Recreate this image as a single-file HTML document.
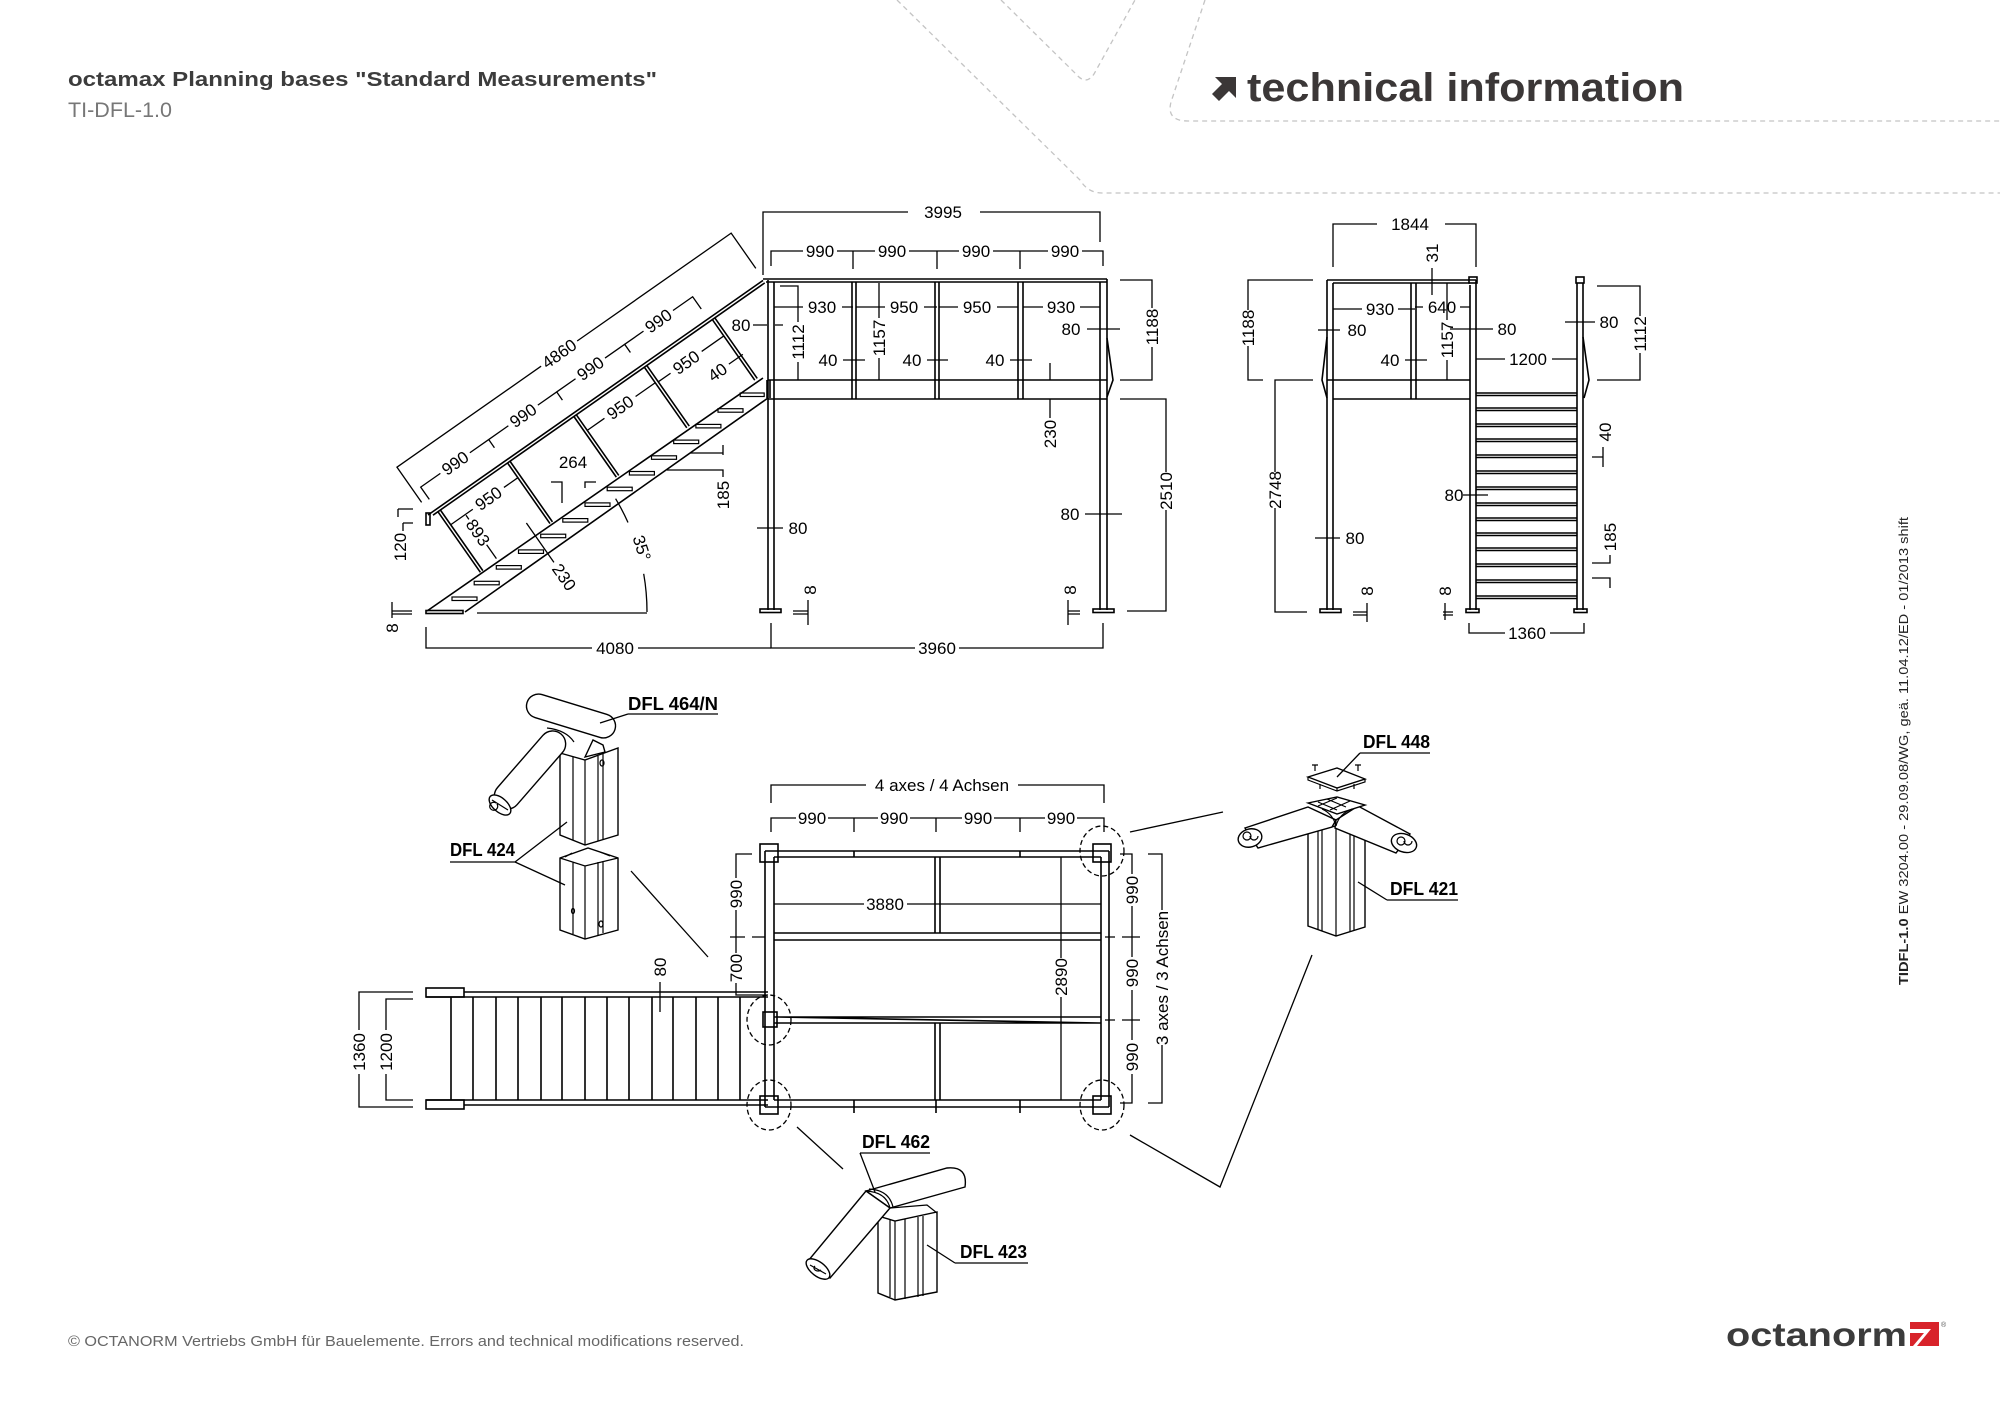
<!DOCTYPE html>
<html><head><meta charset="utf-8">
<style>
html,body{margin:0;padding:0;background:#fff;}
svg{display:block;}
.ln{fill:none;stroke:#000;stroke-width:1.6;}
.dm{fill:none;stroke:#000;stroke-width:1.3;}
.t{font-family:"Liberation Sans",sans-serif;font-size:17px;fill:#000;text-anchor:middle;stroke:none;}
.lb{font-family:"Liberation Sans",sans-serif;font-size:18px;font-weight:bold;fill:#000;stroke:none;}
.pt{stroke:#000;stroke-width:1.4;fill:#fff;}
.pn{stroke:#000;stroke-width:1.2;fill:none;}
</style></head><body>
<svg width="2000" height="1413" viewBox="0 0 2000 1413" xmlns="http://www.w3.org/2000/svg">
<rect width="2000" height="1413" fill="#fff"/>

<!-- decorative dashed lines -->
<g fill="none" stroke="#c4c4c4" stroke-width="1.3" stroke-dasharray="5 4">
<path d="M897,0 L1080,180 Q1088,193 1102,193 L2000,193"/>
<path d="M1001,0 L1076,74 Q1086,86 1094,74 L1135,0"/>
<path d="M1205,0 L1171,102 Q1166,121 1188,121 L2000,121"/>
</g>

<!-- header -->
<text x="68" y="86" font-family="Liberation Sans, sans-serif" font-weight="bold" font-size="20" fill="#3c3c3c" textLength="589" lengthAdjust="spacingAndGlyphs">octamax Planning bases "Standard Measurements"</text>
<text x="68" y="117" font-family="Liberation Sans, sans-serif" font-size="21" fill="#777" textLength="104" lengthAdjust="spacingAndGlyphs">TI-DFL-1.0</text>
<polygon points="1215,77 1236,77 1236,98 1229,91 1219,101 1212,94 1222,84" fill="#3b3737"/>
<text x="1247" y="101" font-family="Liberation Sans, sans-serif" font-weight="bold" font-size="40" fill="#3b3737" textLength="437" lengthAdjust="spacingAndGlyphs">technical information</text>

<!-- ================= FRONT VIEW ================= -->
<g class="ln">
<path d="M763,279 H1107 M766,282 H1107"/>
<path d="M768,280 V610 M774,282 V610 M1100,282 V610 M1107,279 V610"/>
<path d="M852,282 V399 M856,282 V399 M935,282 V399 M939,282 V399 M1018,282 V399 M1023,282 V399"/>
<path d="M768,380 H1107 M768,399 H1107"/>
<rect x="760" y="609" width="21" height="3.5"/>
<rect x="1093" y="609" width="21" height="3.5"/>
<path d="M1107,338 L1113,380 L1107,397"/>
</g>
<g class="dm">
<path d="M763,275 V212 H908 M980,212 H1100 V242"/>
<path d="M771,266 V251 H803 M837,251 H853 V269 M853,251 H875 M909,251 H937 V269 M937,251 H959 M993,251 H1020 V269 M1020,251 H1048 M1082,251 H1103 V266"/>
<path d="M780,286 H798 V322 M798,362 V380"/>
<path d="M879,283 V318 M879,358 V380"/>
<path d="M774,307 H803 M842,307 H853 M856,307 H885 M924,307 H937 M939,307 H958 M997,307 H1018 M1023,307 H1043 M1080,307 H1100"/>
<path d="M843,360 H865 M927,360 H948 M1010,360 H1032 M1050,363 V380"/>
<path d="M1087,329 H1120"/>
<path d="M1120,280 H1152 V308 M1152,347 V380 H1120"/>
<path d="M1050,399 V418"/>
<path d="M1120,399 H1166 V472 M1166,510 V611 H1127"/>
<path d="M1085,514 H1122 M757,528 H783"/>
<path d="M793,611 H808 M793,614 H808 M808,600 V625"/>
<path d="M1068,611 H1080 M1068,614 H1080 M1068,600 V625"/>
<path d="M771,623 V648 H915 M959,648 H1103 V623"/>
<path d="M426,627 V648 H592 M638,648 H771"/>
<path d="M753,325 H767 M775,325 H783"/>
</g>
<g class="t">
<text x="943" y="218">3995</text>
<text x="820" y="257">990</text><text x="892" y="257">990</text><text x="976" y="257">990</text><text x="1065" y="257">990</text>
<text x="822" y="313">930</text><text x="904" y="313">950</text><text x="977" y="313">950</text><text x="1061" y="313">930</text>
<text x="828" y="366">40</text><text x="912" y="366">40</text><text x="995" y="366">40</text>
<text x="1071" y="335">80</text>
<text x="1070" y="520">80</text>
<text x="798" y="534">80</text>
<text x="741" y="331">80</text>
<text x="937" y="654">3960</text>
<text x="615" y="654">4080</text>
<text transform="translate(798,342) rotate(-90)" y="6">1112</text>
<text transform="translate(879,338) rotate(-90)" y="6">1157</text>
<text transform="translate(1152,327) rotate(-90)" y="6">1188</text>
<text transform="translate(1050,434) rotate(-90)" y="6">230</text>
<text transform="translate(1166,491) rotate(-90)" y="6">2510</text>
<text transform="translate(810,590) rotate(-90)" y="6">8</text>
<text transform="translate(1070,590) rotate(-90)" y="6">8</text>
</g>

<!-- ================= STAIR SIDE VIEW ================= -->
<g class="ln">
<path d="M427,611 L763,378 M465,612 L768,398"/>
<rect x="426" y="610.5" width="37" height="3"/>
<rect x="426" y="513" width="4" height="12"/>
<path d="M767,380 V398 M770,380 V398"/>
</g>
<g class="pn" stroke-width="1.3">
<rect x="452" y="597" width="25" height="3.5"/>
<rect x="474.2" y="581.3" width="25" height="3.5"/>
<rect x="496.3" y="565.6" width="25" height="3.5"/>
<rect x="518.5" y="549.9" width="25" height="3.5"/>
<rect x="540.7" y="534.2" width="25" height="3.5"/>
<rect x="562.8" y="518.6" width="25" height="3.5"/>
<rect x="585" y="502.9" width="25" height="3.5"/>
<rect x="607.2" y="487.2" width="25" height="3.5"/>
<rect x="629.4" y="471.5" width="25" height="3.5"/>
<rect x="651.5" y="455.8" width="25" height="3.5"/>
<rect x="673.7" y="440.1" width="25" height="3.5"/>
<rect x="695.9" y="424.4" width="25" height="3.5"/>
<rect x="718" y="408.7" width="25" height="3.5"/>
<rect x="740.2" y="393" width="24" height="3.5"/>
</g>
<g transform="translate(428,515) rotate(-35)">
<path class="ln" d="M0,0 H409 M4,3 H409"/>
<path class="ln" stroke-width="1.4" d="M10,3 V77 M13,3 V77 M95,3 V77 M98,3 V77 M176,3 V77 M179,3 V77 M262,3 V77 M265,3 V77 M345,3 V77 M348,3 V77"/>
<path class="dm" d="M2,-14 V-57 H178 M222,-57 H410 V-14"/>
<path class="dm" d="M10,-12 V-27 H34 M70,-27 H93 V-17 M93,-27 H117 M153,-27 H176 V-17 M176,-27 H199 M235,-27 H259 V-17 M259,-27 H282 M318,-27 H342 V-12"/>
<path class="dm" d="M13,21 H40 M78,21 H95 M179,22 H200 M238,22 H262 M265,23 H280 M318,23 H345"/>
<path class="dm" d="M31,58 V75 M31,22 V27 M76,63 V111 M333,49 H350"/>
<g class="t">
<text x="200" y="-51">4860</text>
<text x="52" y="-21">990</text><text x="135" y="-21">990</text><text x="217" y="-21">990</text><text x="300" y="-21">990</text>
<text x="59" y="27">950</text><text x="219" y="28">950</text><text x="299" y="29">950</text>
<text x="319" y="55">40</text>
<text transform="translate(31,43) rotate(90)" y="6">893</text>
<text transform="translate(76,129) rotate(90)" y="6">230</text>
</g>
</g>
<g class="dm">
<path d="M477,613 H647"/>
<path d="M647,612 A220,220 0 0 0 643.7,573.8 M628,522.5 A220,220 0 0 0 615.6,498.7"/>
<path d="M551,482 H562 V503 M596,482 H585 V488"/>
<path d="M690,453 H723 M723,445 V455 M667,470 H723 V477"/>
<path d="M398,509 H413 M398,509 V517 M403,523 H413 M403,523 V531"/>
<path d="M392,611 H412 M392,614 H412 M392,602 V618"/>
</g>
<g class="t">
<text transform="translate(642,548) rotate(72)" y="6">35°</text>
<text x="573" y="468">264</text>
<text transform="translate(723,495) rotate(-90)" y="6">185</text>
<text transform="translate(400,547) rotate(-90)" y="6">120</text>
<text transform="translate(392,628) rotate(-90)" y="6">8</text>
</g>

<!-- ================= RIGHT SIDE VIEW ================= -->
<g class="ln">
<path d="M1327,280 H1476 M1333,283 H1470"/>
<path d="M1327,280 V610 M1333,283 V610"/>
<rect x="1320" y="609" width="21" height="3.5"/>
<path d="M1411,283 V399 M1416,283 V399"/>
<path d="M1327,380 H1470 M1333,399 H1470"/>
<path d="M1470,285 V610 M1476,280 V610"/>
<rect x="1469" y="277" width="8" height="6"/>
<rect x="1466" y="609" width="13" height="3.5"/>
<path d="M1577,283 V610 M1583,283 V610"/>
<rect x="1576" y="277" width="8" height="6"/>
<rect x="1574" y="609" width="13" height="3.5"/>
<path d="M1583,337 L1589,380 L1584,398 M1327,337 L1322,380 L1327,398"/>
</g>
<g class="ln" stroke-width="1.3">
<path d="M1476,393 H1577 M1476,395.5 H1577 M1476,408 H1577 M1476,410.5 H1577 M1476,424 H1577 M1476,426.5 H1577 M1476,439 H1577 M1476,441.5 H1577 M1476,455 H1577 M1476,457.5 H1577 M1476,471 H1577 M1476,473.5 H1577 M1476,487 H1577 M1476,489.5 H1577 M1476,503 H1577 M1476,505.5 H1577 M1476,518 H1577 M1476,520.5 H1577 M1476,533 H1577 M1476,535.5 H1577 M1476,548 H1577 M1476,550.5 H1577 M1476,564 H1577 M1476,566.5 H1577 M1476,580 H1577 M1476,582.5 H1577 M1476,596 H1577 M1476,598.5 H1577"/>
</g>
<g class="dm">
<path d="M1333,267 V224 H1377 M1445,224 H1476 V267"/>
<path d="M1432,268 V295"/>
<path d="M1313,280 H1248 V310 M1248,346 V380 H1263"/>
<path d="M1313,380 H1275 V472 M1275,508 V612 H1307"/>
<path d="M1318,330 H1340 M1315,538 H1340"/>
<path d="M1333,309 H1362 M1398,309 H1415 M1415,307 H1423 M1460,307 H1470"/>
<path d="M1405,360 H1427"/>
<path d="M1447,283 V320 M1447,360 V380"/>
<path d="M1450,329 H1493 M1476,359 H1505 M1552,359 H1577 M1565,322 H1595"/>
<path d="M1597,286 H1640 V316 M1640,353 V380 H1597"/>
<path d="M1592,457 H1603 M1603,447 V467"/>
<path d="M1592,563 H1610 V555 M1592,578 H1610 V588"/>
<path d="M1463,495 H1488"/>
<path d="M1353,612 H1367 M1353,615 H1367 M1367,603 V622"/>
<path d="M1443,612 H1453 M1443,615 H1453 M1445,603 V620"/>
<path d="M1469,623 V633 H1505 M1550,633 H1584 V623"/>
</g>
<g class="t">
<text x="1410" y="230">1844</text>
<text transform="translate(1432,253) rotate(-90)" y="6">31</text>
<text transform="translate(1248,328) rotate(-90)" y="6">1188</text>
<text transform="translate(1275,490) rotate(-90)" y="6">2748</text>
<text x="1357" y="336">80</text>
<text x="1355" y="544">80</text>
<text x="1380" y="315">930</text>
<text x="1442" y="313">640</text>
<text x="1390" y="366">40</text>
<text transform="translate(1447,340) rotate(-90)" y="6">1157</text>
<text x="1507" y="335">80</text>
<text x="1528" y="365">1200</text>
<text x="1609" y="328">80</text>
<text transform="translate(1640,334) rotate(-90)" y="6">1112</text>
<text transform="translate(1605,432) rotate(-90)" y="6">40</text>
<text transform="translate(1610,537) rotate(-90)" y="6">185</text>
<text x="1454" y="501">80</text>
<text transform="translate(1367,591) rotate(-90)" y="6">8</text>
<text transform="translate(1445,591) rotate(-90)" y="6">8</text>
<text x="1527" y="639">1360</text>
</g>

<!-- ================= PLAN VIEW ================= -->
<g class="ln">
<path d="M765,851 H1109 M774,857 H1101 M774,1100 H1101 M765,1107 H1109"/>
<path d="M765,851 V1107 M774,857 V1100 M1101,857 V1100 M1109,851 V1107"/>
<path d="M935,857 V933 M940,857 V933 M935,1023 V1100 M940,1023 V1100"/>
<path d="M774,933 H1101 M774,940 H1101 M774,1017 H1101 M774,1023 H1101 M777,1017 L1099,1023"/>
<rect x="760" y="844" width="18" height="18"/>
<rect x="1093" y="844" width="18" height="18"/>
<rect x="760" y="1096" width="18" height="18"/>
<rect x="1093" y="1096" width="18" height="18"/>
<rect x="763" y="1012" width="14" height="15"/>
<path d="M854,851 V857 M1020,851 V857 M854,1100 V1113 M936,1100 V1113 M1020,1100 V1113"/>
<!-- stair plan -->
<rect x="426" y="988" width="38" height="9"/>
<rect x="426" y="1100" width="38" height="9"/>
<path d="M464,992 H768 M426,997 H768 M426,1100 H768 M464,1105 H768"/>
</g>
<g class="ln" stroke-width="1.4">
<path d="M451,997 V1100 M473,997 V1100 M496,997 V1100 M518,997 V1100 M541,997 V1100 M562,997 V1100 M585,997 V1100 M607,997 V1100 M629,997 V1100 M652,997 V1100 M673,997 V1100 M696,997 V1100 M718,997 V1100 M740,997 V1100"/>
</g>
<g class="dm">
<path d="M771,803 V785 H866 M1018,785 H1104 V803"/>
<path d="M771,832 V818 H796 M828,818 H854 V832 M854,818 H878 M910,818 H936 V832 M936,818 H962 M994,818 H1020 V832 M1020,818 H1045 M1077,818 H1104 V832"/>
<path d="M774,904 H864 M907,904 H1101"/>
<path d="M1061,857 V958 M1061,997 V1100"/>
<path d="M752,854 H736 V878 M736,910 V953 M736,983 V995 H768 M730,937 H745 M752,937 H765"/>
<path d="M1120,854 H1132 V874 M1132,906 V957 M1132,990 V1040 M1132,1074 V1103 H1120 M1105,937 H1115 M1122,937 H1140 M1105,1020 H1115 M1122,1020 H1140"/>
<path d="M1148,854 H1162 V910 M1162,1045 V1103 H1148"/>
<path d="M660,982 V1012"/>
<path d="M413,992 H359 V1030 M359,1074 V1107 H413"/>
<path d="M413,999 H386 V1030 M386,1074 V1100 H413"/>
</g>
<g fill="none" stroke="#000" stroke-width="1.3" stroke-dasharray="5 3">
<ellipse cx="1102" cy="851" rx="22" ry="25"/>
<ellipse cx="769" cy="1020" rx="22" ry="25"/>
<ellipse cx="769" cy="1105" rx="22" ry="25"/>
<ellipse cx="1102" cy="1105" rx="22" ry="25"/>
</g>
<g class="t">
<text x="942" y="791">4 axes / 4 Achsen</text>
<text x="812" y="824">990</text><text x="894" y="824">990</text><text x="978" y="824">990</text><text x="1061" y="824">990</text>
<text x="885" y="910">3880</text>
<text transform="translate(1061,977) rotate(-90)" y="6">2890</text>
<text transform="translate(736,894) rotate(-90)" y="6">990</text>
<text transform="translate(736,968) rotate(-90)" y="6">700</text>
<text transform="translate(1132,890) rotate(-90)" y="6">990</text>
<text transform="translate(1132,973) rotate(-90)" y="6">990</text>
<text transform="translate(1132,1057) rotate(-90)" y="6">990</text>
<text transform="translate(1162,978) rotate(-90)" y="6">3 axes / 3 Achsen</text>
<text transform="translate(660,967) rotate(-90)" y="6">80</text>
<text transform="translate(359,1052) rotate(-90)" y="6">1360</text>
<text transform="translate(386,1052) rotate(-90)" y="6">1200</text>
</g>

<!-- leader lines -->
<g class="dm" stroke-width="1.5">
<path d="M631,871 L708,957"/>
<path d="M1130,832 L1223,812"/>
<path d="M1130,1135 L1220,1187 L1312,955"/>
<path d="M797,1127 L843,1169"/>
</g>

<!-- ================= DETAIL DFL 464/N + DFL 424 ================= -->
<g>
<path class="pt" d="M560,753 L585,760 L618,748 V835 L585,845 L560,835 Z"/>
<path class="pn" d="M585,760 V845 M573,757 V840 M598,756 V841 M603,754 V839"/>
<ellipse class="pn" cx="602" cy="763" rx="2" ry="3"/>
<path class="pt" d="M560,858 L588,848 L618,858 V930 L585,939 L560,930 Z"/>
<path class="pn" d="M560,858 L585,866 L618,858 M585,866 V939 M573,862 V934 M598,862 V935 M603,861 V933 M565,857 L572,853 M600,852 L610,856"/>
<ellipse class="pn" cx="601" cy="924" rx="2" ry="3"/>
<ellipse class="pn" cx="573" cy="911" rx="1.5" ry="2.5"/>
<path class="pt" d="M585,757 L593,740 L603,745 L605,752 Z"/>
<rect class="pt" x="525" y="704" width="92" height="24" rx="12" transform="rotate(17 571 716)"/>
<rect class="pt" x="482.5" y="757" width="95" height="26" rx="13" transform="rotate(-49 530 770)"/>
<path class="pn" d="M547,728 Q566,730 574,742"/>
<ellipse class="pt" cx="500" cy="805" rx="13" ry="7" transform="rotate(41 500 805)"/>
<path class="pn" d="M492,800 L508,810 M496,803 a4,4 0 1 0 1,1"/>
<text class="lb" x="628" y="710" textLength="90" lengthAdjust="spacingAndGlyphs">DFL 464/N</text>
<path class="dm" d="M628,714 H718 M628,714 L600,723"/>
<text class="lb" x="450" y="856" textLength="65" lengthAdjust="spacingAndGlyphs">DFL 424</text>
<path class="dm" d="M450,862 H515 M515,862 L567,822 M515,862 L565,885"/>
</g>

<!-- ================= DETAIL DFL 448 + DFL 421 ================= -->
<g>
<path class="pt" d="M1308,832 L1336,826 L1365,836 V927 L1336,936 L1308,926 Z"/>
<path class="pn" d="M1336,826 V936 M1318,830 V929 M1322,829 V931 M1350,831 V932 M1354,832 V930"/>
<path class="pt" d="M1245,828 L1308,807 L1336,820 L1332,827 L1258,848 Z"/>
<ellipse class="pt" cx="1250" cy="838" rx="12" ry="9" transform="rotate(-15 1250 838)"/>
<path class="pn" d="M1243,836 a4,4 0 1 0 8,0 a4,4 0 1 0 -8,0 M1250,836 a4,4 0 1 0 8,0"/>
<path class="pt" d="M1336,820 L1358,806 L1410,834 L1396,853 L1335,828 Z"/>
<ellipse class="pt" cx="1404" cy="843" rx="13" ry="9" transform="rotate(20 1404 843)"/>
<path class="pn" d="M1397,841 a4,4 0 1 0 8,0 a4,4 0 1 0 -8,0 M1404,841 a4,4 0 1 0 8,0"/>
<path class="pt" d="M1308,803 L1337,797 L1365,805 L1337,814 Z"/>
<path class="pn" d="M1318,802 L1337,810 M1327,799 L1346,807 M1337,798 L1318,806 M1350,801 L1330,810 M1322,809 Q1333,814 1336,826 Q1339,814 1352,809"/>
<path class="pt" d="M1308,777 L1337,768 L1365,779 L1337,788 Z"/>
<path class="pn" d="M1308,777 V780 L1337,791 L1365,782 V779 M1337,788 V791"/>
<path class="pn" d="M1312,765 H1318 M1315,765 V771 M1355,765 H1361 M1358,765 V771 M1320,784 V789 M1354,784 V789"/>
<text class="lb" x="1363" y="748" textLength="67" lengthAdjust="spacingAndGlyphs">DFL 448</text>
<path class="dm" d="M1360,753 H1430 M1360,753 L1337,777"/>
<text class="lb" x="1390" y="895" textLength="68" lengthAdjust="spacingAndGlyphs">DFL 421</text>
<path class="dm" d="M1387,900 H1458 M1387,900 L1358,882"/>
</g>

<!-- ================= DETAIL DFL 462 + DFL 423 ================= -->
<g>
<path class="pt" d="M878,1216 L895,1221 L937,1212 V1292 L895,1300 L878,1293 Z"/>
<path class="pn" d="M890,1219 V1297 M895,1221 V1300 M905,1219 V1299 M918,1217 V1297 M923,1216 V1296 M890,1208 L927,1205 L937,1213"/>
<path class="pt" d="M866,1191 L947,1168 Q968,1166 965,1187 L890,1208 Z"/>
<path class="pt" d="M866,1191 L808,1261 L830,1278 L890,1208 Z"/>
<ellipse class="pt" cx="818" cy="1269" rx="14" ry="7" transform="rotate(38 818 1269)"/>
<path class="pn" d="M810,1265 L826,1274 M815,1266 a4,3 0 1 0 6,4"/>
<path class="pn" d="M866,1191 Q886,1192 890,1208 M869,1189 Q889,1190 893,1207"/>
<text class="lb" x="862" y="1148" textLength="68" lengthAdjust="spacingAndGlyphs">DFL 462</text>
<path class="dm" d="M860,1153 H930 M860,1153 L875,1192"/>
<text class="lb" x="960" y="1258" textLength="67" lengthAdjust="spacingAndGlyphs">DFL 423</text>
<path class="dm" d="M955,1263 H1028 M955,1263 L927,1245"/>
</g>

<!-- vertical side text -->
<text transform="translate(1908,985) rotate(-90)" font-family="Liberation Sans, sans-serif" font-size="13" fill="#222" textLength="468" lengthAdjust="spacingAndGlyphs"><tspan font-weight="bold">TIDFL-1.0</tspan>  EW 3204.00 - 29.09.08/WG, geä. 11.04.12/ED - 01/2013 shift</text>

<!-- footer -->
<text x="68" y="1346" font-family="Liberation Sans, sans-serif" font-size="15" fill="#666" textLength="676" lengthAdjust="spacingAndGlyphs">© OCTANORM Vertriebs GmbH für Bauelemente. Errors and technical modifications reserved.</text>
<text x="1726" y="1346" font-family="Liberation Sans, sans-serif" font-weight="bold" font-size="33" fill="#3b3b3b" textLength="181" lengthAdjust="spacingAndGlyphs">octanorm</text>
<rect x="1910" y="1322" width="29" height="24" fill="#d8232a"/>
<polygon points="1910,1329 1931,1329 1917,1346 1910,1346" fill="#fff"/>
<polygon points="1910,1333 1924,1333 1913,1346 1910,1346" fill="#d8232a"/>
<text x="1941" y="1327" font-family="Liberation Sans, sans-serif" font-size="7" fill="#555">®</text>
</svg>
</body></html>
